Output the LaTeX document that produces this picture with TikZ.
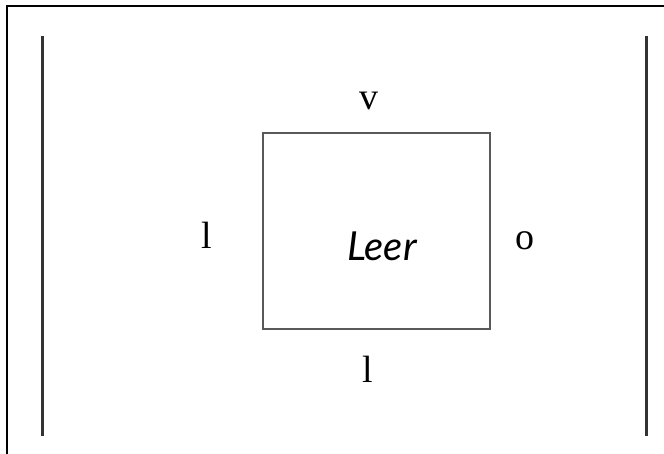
\documentclass[tikz,border=0pt]{standalone}
\usepackage{fontspec}
\newfontfamily\leerfont{Lato}
\newfontfamily\labfont{Liberation Serif}
\begin{document}
\begin{tikzpicture}[x=1pt,y=-1pt,
  lab/.style={inner sep=0pt,anchor=base,font=\labfont\fontsize{38}{40}\selectfont,text=black},
  bar/.style={line width=3pt,color=black!80},
  frame/.style={line width=2pt,color=black}]
\useasboundingbox (0,0) rectangle (664,454);
\fill[white] (0,0) rectangle (664,454);
% outer (cropped) border
\coordinate (tr) at (664,6);
\coordinate (tl) at (7,6);
\coordinate (bl) at (7,454);
\draw[frame] (tr) -- (tl) -- (bl);
% vertical bars
\coordinate (l1) at (42,36);
\coordinate (l2) at (42,436);
\coordinate (r1) at (646,36);
\coordinate (r2) at (646,436);
\draw[bar] (l1) -- (l2);
\draw[bar] (r1) -- (r2);
% box
\node[draw=black!65,line width=2pt,minimum width=227pt,minimum height=196pt,inner sep=0pt] (box) at (376.5,231) {};
\node[inner sep=0pt,anchor=base,text=black,font=\leerfont\itshape\fontsize{40}{42}\selectfont] (leer) at (382,261) {Leer};
% labels
\node[lab] (v) at (369,110) {v};
\node[lab] (lft) at (207,249) {l};
\node[lab] (o) at (525,250) {o};
\node[lab] (bot) at (368,382) {l};
\end{tikzpicture}
\end{document}
